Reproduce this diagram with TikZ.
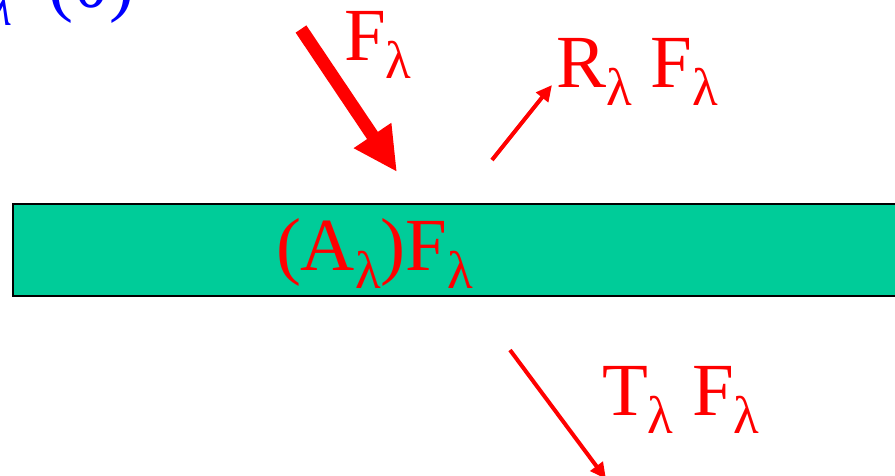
\documentclass[tikz,border=0pt]{standalone}
\usepackage{fontspec}
\setmainfont{Liberation Serif}
\usetikzlibrary{arrows.meta}
\definecolor{slab}{HTML}{00CC99}
\definecolor{lbl}{HTML}{FF0000}
\definecolor{ttl}{HTML}{0000FF}
\newcommand{\lsub}{{\fontsize{53}{53}\selectfont\raisebox{-18pt}{λ}}}
\tikzset{
  lab/.style={text=lbl, font=\fontsize{75}{75}\selectfont, anchor=base west, inner sep=0pt, outer sep=0pt},
  flux/.style={draw=lbl, line width=4pt, -{Triangle[length=16pt,width=15pt]}},
  bigflux/.style={draw=lbl, line width=13pt, -{Triangle[length=44pt,width=42pt]}},
  slabbox/.style={fill=slab, draw=black, line width=2pt}
}
\begin{document}
\begin{tikzpicture}[x=1pt,y=-1pt]
\useasboundingbox (0,0) rectangle (895,475);
\clip (0,0) rectangle (895,475);
% slab
\draw[slabbox] (13,204) rectangle (920,296);
\node[lab] (absorb) at (276,270) {(A\lsub)F\lsub};
% partial title
\node[lab, text=ttl] (title) at (-10,7) {{\itshape\lsub}\hspace{36pt}(θ)};
% incident
\coordinate (inS) at (301,29);
\coordinate (inE) at (397,172);
\draw[bigflux] (inS) -- (inE);
\node[lab] (inc) at (344,60) {F\lsub};
% reflected
\coordinate (rS) at (492,160);
\coordinate (rE) at (552,85);
\draw[flux] (rS) -- (rE);
\node[lab] (refl) at (556,87) {R\lsub\ F\lsub};
% transmitted
\coordinate (tS) at (510,350);
\coordinate (tE) at (606,479);
\draw[flux] (tS) -- (tE);
\node[lab] (trans) at (602,415) {T\lsub\ F\lsub};
\end{tikzpicture}
\end{document}
